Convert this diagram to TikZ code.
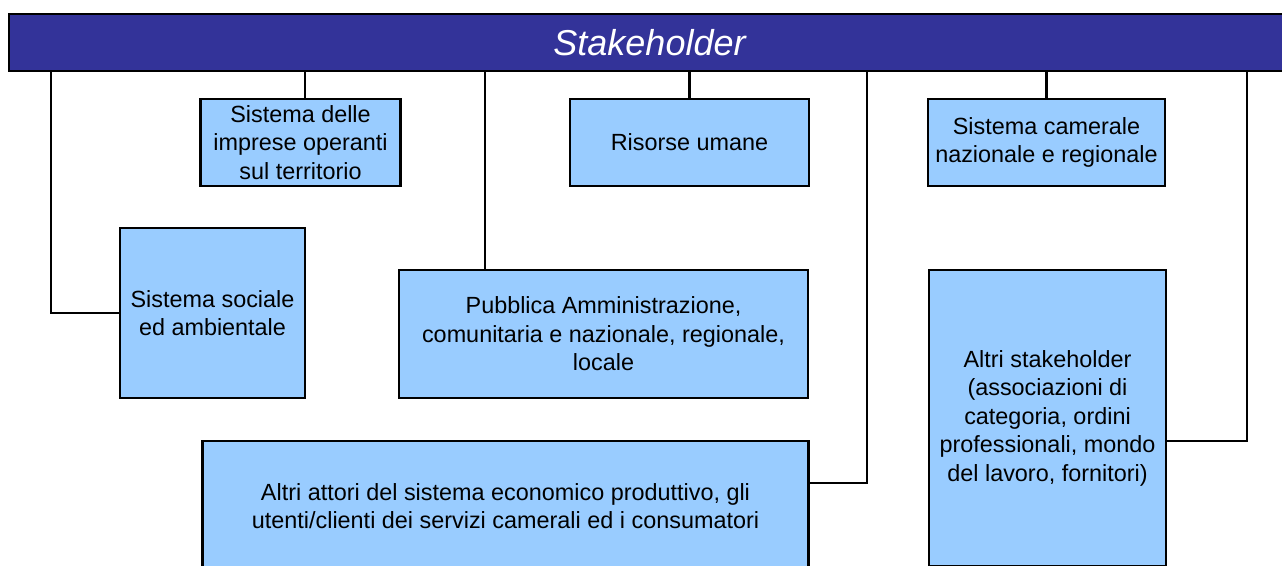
\documentclass[tikz,border=0pt]{standalone}
\usepackage{fontspec}
\setmainfont{Liberation Sans}
\usepackage{tikz}
\usetikzlibrary{positioning}
\usepackage{xcolor}
\definecolor{barblue}{HTML}{333399}
\definecolor{boxblue}{HTML}{99CCFF}

\tikzset{
	sbox/.style={draw, fill=boxblue, line width=2.8pt, inner sep=0pt, align=center,
		font=\fontsize{23.4}{28.5}\selectfont},
	link/.style={line width=2.6pt}
}

\begin{document}
\begin{tikzpicture}[x=1pt, y=-1pt]
		\useasboundingbox (0,0) rectangle (1282,565);
		\clip (0,0) rectangle (1282,565);
		\draw (649.5,42.5) node[draw, fill=barblue, line width=2.8pt, minimum width=1281pt, minimum height=57pt, inner sep=0pt,
			text=white, font=\fontsize{36}{40}\selectfont\itshape] (bar) {Stakeholder}
		(300.5,142.5) node[sbox, minimum width=200pt, minimum height=87pt] (imprese) {Sistema delle\\imprese operanti\\sul territorio}
		(689.5,142.5) node[sbox, minimum width=239pt, minimum height=87pt] (risorse) {Risorse umane}
		(1046.5,142.5) node[sbox, minimum width=237pt, minimum height=87pt] (camerale) {Sistema camerale\\nazionale e regionale}
		(212.5,313) node[sbox, minimum width=185pt, minimum height=170pt] (sociale) {Sistema sociale\\ed ambientale}
		(603.5,334) node[sbox, minimum width=409pt, minimum height=128pt] (pa) {Pubblica Amministrazione,\\comunitaria e nazionale, regionale,\\locale}
		(505.5,506) node[sbox, minimum width=606pt, minimum height=130pt] (attori) {Altri attori del sistema economico produttivo, gli\\utenti/clienti dei servizi camerali ed i consumatori}
		(1047.5,418) node[sbox, minimum width=237pt, minimum height=296pt] (altri) {Altri stakeholder\\(associazioni di\\categoria, ordini\\professionali, mondo\\del lavoro, fornitori)};

		% bends of the side links
		\coordinate (jimp) at (305,0);
		\coordinate (jsoc) at (51,0);
		\coordinate (jpa) at (485,0);
		\coordinate (jatt) at (867,483);
		\coordinate (jaltri) at (1247,441);

		\draw[link] (bar.south -| jimp) -- (imprese.north -| jimp);
		\draw[link] (bar.south -| risorse.north) -- (risorse.north);
		\draw[link] (bar.south -| camerale.north) -- (camerale.north);
		\draw[link] (bar.south -| jsoc) |- (sociale.west);
		\draw[link] (bar.south -| jpa) -- (pa.north -| jpa);
		\draw[link] (bar.south -| jatt) |- (attori.east |- jatt);
		\draw[link] (bar.south -| jaltri) |- (altri.east |- jaltri);
	\end{tikzpicture}
\end{document}
